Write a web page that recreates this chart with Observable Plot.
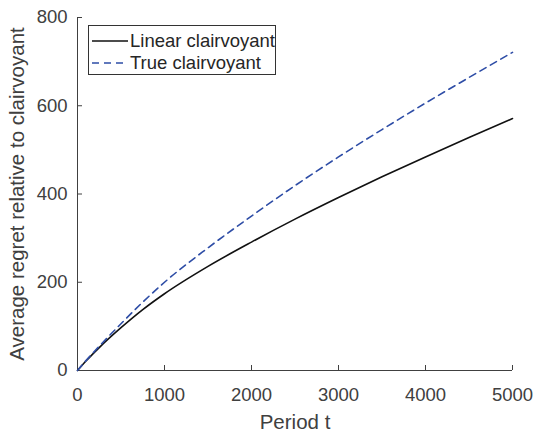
<!DOCTYPE html>
<html>
<head>
<meta charset="utf-8">
<script src="https://cdn.jsdelivr.net/npm/d3@7"></script>
<script src="https://cdn.jsdelivr.net/npm/@observablehq/plot@0.6"></script>
<style>
  html, body { margin: 0; padding: 0; background: #fff; }
  #wrap { position: relative; width: 535px; height: 435px; font-family: "Liberation Sans", Arial, Helvetica, sans-serif; }
  #wrap svg [aria-label="x-axis label"] text, #wrap svg [aria-label="y-axis label"] text { font-size: 20.5px; }
  #legend { position: absolute; left: 88px; top: 25px; width: 188px; height: 50px; border: 1px solid #333; background: #fff; box-sizing: border-box; font-size: 18.5px; color: #262626; }
  .row { position: absolute; left: 3px; height: 22px; display: flex; align-items: center; white-space: nowrap; }
  .row svg { margin-right: 2px; }
</style>
</head>
<body>
<div id="wrap"></div>
<script>
const periods = [0, 100, 250, 500, 750, 1000, 1500, 2000, 2500, 3000, 3500, 4000, 4500, 5000];
const linearRegret = [0, 22, 52, 97, 138, 174, 236, 291, 343, 392, 439, 484, 528, 571];
const trueRegret = [0, 23, 55, 106, 155, 200, 278, 350, 419, 484, 546, 606, 664, 721];
const seriesNames = ["Linear clairvoyant", "True clairvoyant"];
const seriesColors = ["#111111", "#2e4da6"];
const seriesDash = [null, "7,5"];
const xTicks = [0, 1000, 2000, 3000, 4000, 5000];
const yTicks = [0, 200, 400, 600, 800];

const seriesValues = [linearRegret, trueRegret];
const rows = [];
seriesNames.forEach((name, i) => {
  periods.forEach((t, j) => rows.push({series: name, t, v: seriesValues[i][j]}));
});

const marks = [];
seriesNames.forEach((name, i) => {
  marks.push(Plot.line(rows.filter(d => d.series === name), {
    x: "t", y: "v", stroke: seriesColors[i], strokeWidth: 1.6,
    strokeDasharray: seriesDash[i], curve: "monotone-x"
  }));
});

const chart = Plot.plot({
  width: 535,
  height: 435,
  marginLeft: 77,
  marginRight: 23,
  marginTop: 17,
  marginBottom: 65,
  style: {fontFamily: '"Liberation Sans", Arial, Helvetica, sans-serif', fontSize: "18.5px", color: "#262626", background: "#fff"},
  x: {domain: [0, 5000], labelArrow: "none"},
  y: {domain: [0, 800], labelArrow: "none"},
  marks: [
    Plot.axisX(xTicks, {tickSize: 0, tickPadding: 17, fill: "#404040", label: "Period t", labelArrow: "none", labelAnchor: "center", labelOffset: 58, tickFormat: d => String(d)}),
    Plot.axisY(yTicks, {tickSize: 0, tickPadding: 10, fill: "#404040", label: "Average regret relative to clairvoyant", labelArrow: "none", labelAnchor: "center", labelOffset: 68, tickFormat: d => String(d)}),
    Plot.axisX(xTicks, {tickSize: 5, dy: -5, stroke: "#404040", tickFormat: () => "", label: null}),
    Plot.axisY(yTicks, {tickSize: 5, dx: 5, stroke: "#404040", tickFormat: () => "", label: null}),
    Plot.ruleY([0], {stroke: "#404040"}),
    Plot.ruleX([0], {stroke: "#404040"}),
    ...marks
  ]
});
const wrap = document.getElementById("wrap");
wrap.appendChild(chart);

const legend = document.createElement("div");
legend.id = "legend";
seriesNames.forEach((name, i) => {
  const row = document.createElement("div");
  row.className = "row";
  row.style.top = (4 + i * 22) + "px";
  row.innerHTML = `<svg width="36" height="4"><line x1="0" x2="36" y1="2" y2="2" stroke="${seriesColors[i]}" stroke-width="1.6" ${seriesDash[i] ? `stroke-dasharray="${seriesDash[i]}"` : ""}/></svg><span>${name}</span>`;
  legend.appendChild(row);
});
wrap.appendChild(legend);
</script>
</body>
</html>
